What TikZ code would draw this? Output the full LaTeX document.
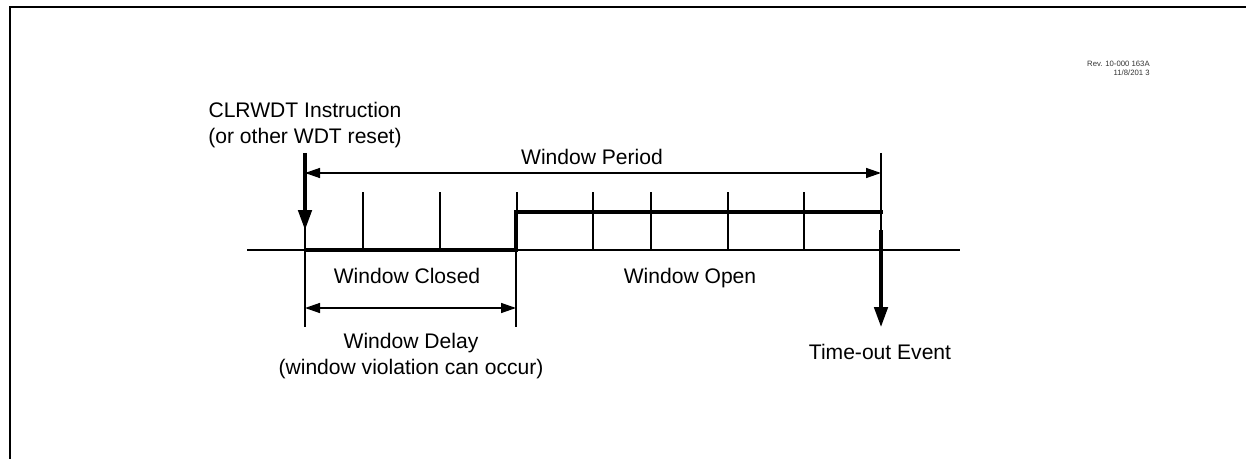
\documentclass[tikz,border=0pt]{standalone}
\usepackage{fontspec}
\setmainfont{Liberation Sans}
\usetikzlibrary{arrows.meta, positioning}

\begin{document}
\begin{tikzpicture}[
    x=0.02cm, y=-0.02cm,
    lbl/.style={font=\fontsize{12}{14.6}\selectfont, align=center, inner sep=0pt},
    revtag/.style={font=\fontsize{4.4}{5.2}\selectfont, align=right, inner sep=0pt, text=black!80},
    wire/.style={line width=0.8pt},
    level/.style={line width=2.3pt},
    event/.style={line width=1.9pt, -{Triangle[length=0.4cm, width=0.27cm]}},
    span/.style={wire, {Triangle[length=0.3cm, width=0.2cm]}-{Triangle[length=0.3cm, width=0.2cm]}}
]
    \useasboundingbox (0,0) rectangle (1246,459);
    % Frame
    \draw [line width=1.2pt] (10,459) -- (10,7) -- (1246,7);

    % Points
    \coordinate (rst) at (305,153);
    \coordinate (rsttip) at (305,230);
    \coordinate (start) at (305,250);
    \coordinate (rise) at (516,250);
    \coordinate (risetop) at (516,212);
    \coordinate (hiend) at (883,212);
    \coordinate (tout) at (881,153);
    \coordinate (touttop) at (881,230);
    \coordinate (touttip) at (881,327);
    \coordinate (axisl) at (247,250);
    \coordinate (axisr) at (960,250);
    \coordinate (dl) at (305,327);
    \coordinate (dr) at (516,327);

    % Axis and ticks
    \draw [wire] (axisl) -- (axisr);
    \foreach \x in {363,440,517,593,651,728,804}
        \draw [wire] (\x,192) -- (\x,250);

    % Signal
    \draw [level] (start) -- (rise) -- (risetop) -- (hiend);

    % Markers
    \draw [wire] (rst) -- (dl);
    \draw [wire] (rise) -- (dr);
    \draw [wire] (tout) -- (touttop);
    \draw [event] (rst) -- (rsttip);
    \draw [event] (touttop) -- (touttip);

    % Spans
    \draw [span] (305,173) -- (881,173);
    \draw [span] (305,308) -- (516,308);

    % Labels
    \node [lbl] (clr) at (305,125) {CLRWDT Instruction\\(or other WDT reset)};
    \node [lbl, anchor=base] (period) at (592,165) {Window Period};
    \node [lbl, anchor=base] (closed) at (407,283) {Window Closed};
    \node [lbl, anchor=base] (open) at (690,283) {Window Open};
    \node [lbl] (delay) at (411,356) {Window Delay\\(window violation can occur)};
    \node [lbl, anchor=base] (timeout) at (880,359) {Time-out Event};
    \node [revtag, anchor=north east] (rev) at (1150,61) {Rev. 10-000 163A\\11/8/201 3};
\end{tikzpicture}
\end{document}
